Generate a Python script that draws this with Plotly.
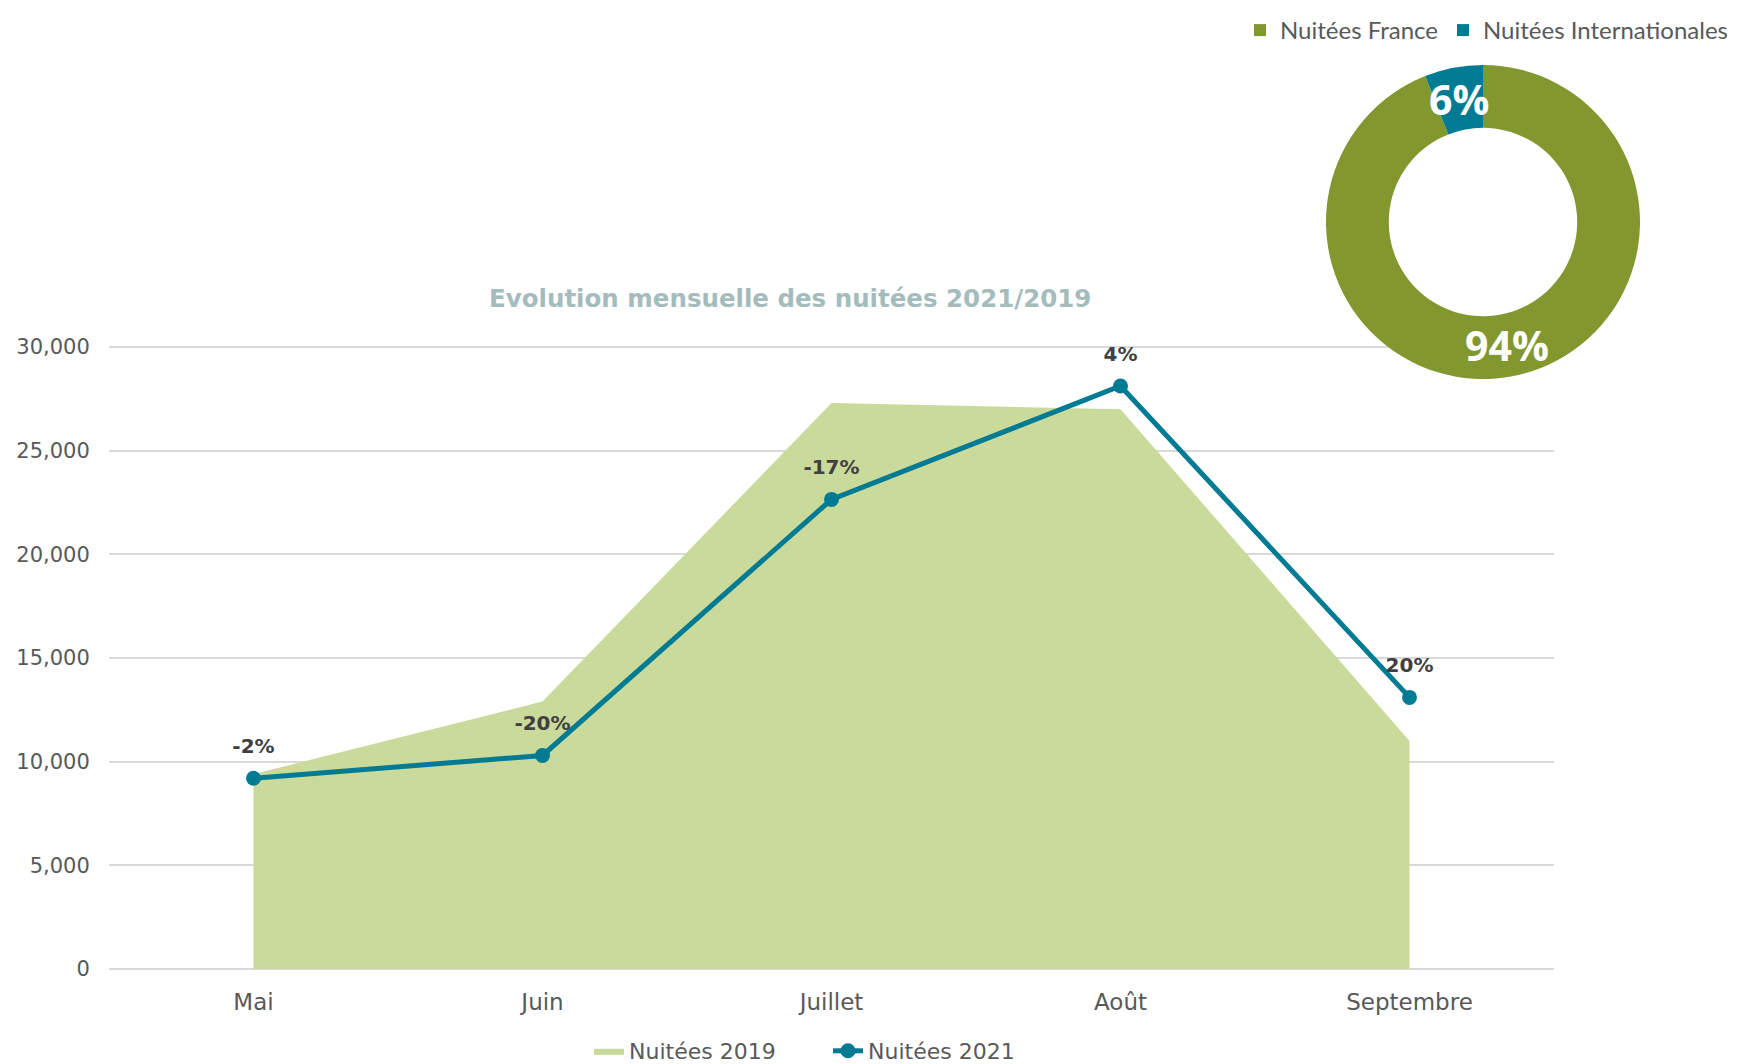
import math
import plotly.graph_objects as go

months = ["Mai", "Juin", "Juillet", "Août", "Septembre"]
nuitees_2019 = [9400, 12900, 27300, 27000, 11000]
nuitees_2021 = [9200, 10300, 22650, 28120, 13100]
evolution_labels = ["-2%", "-20%", "-17%", "4%", "20%"]

pie_labels = ["Nuitées France", "Nuitées Internationales"]
pie_values = [94, 6]
pie_text = ["94%", "6%"]

GREEN_AREA = "#C9DA9B"
TEAL = "#007B93"
OLIVE = "#83972F"
GRAY = "#595959"

W, H = 1744, 1064
OFF = 8  # page body offset of the figure on screen
PL, PR, PT, PB = 109, 1554, 347, 969  # plot area (0..30000) in screen pixels
YMAX = 30000
YTOP = 30300
PT_EXT = PB - (PB - PT) * YTOP / YMAX

# donut geometry (screen pixels)
PIE_CX, PIE_CY, PIE_R, PIE_HOLE = 1483, 222, 157, 0.6


def px_x(v):
    return (v - OFF) / W


def px_y(v):
    return (H - (v - OFF)) / H


fig = go.Figure()

fig.add_trace(go.Scatter(
    x=months, y=nuitees_2019, name="Nuitées 2019", mode="lines",
    fill="tozeroy", fillcolor=GREEN_AREA, line=dict(width=0, color=GREEN_AREA),
    legend="legend", hoverinfo="x+y",
))
fig.add_trace(go.Scatter(
    x=months, y=nuitees_2021, name="Nuitées 2021", mode="lines+markers",
    line=dict(width=5, color=TEAL), marker=dict(size=15, color=TEAL),
    legend="legend", cliponaxis=False,
))
fig.add_trace(go.Scatter(
    x=months, y=nuitees_2021, mode="text+markers", showlegend=False,
    marker=dict(size=31, opacity=0, color=TEAL),
    text=evolution_labels, textposition="top center",
    textfont=dict(family="DejaVu Sans", size=20, color="#404040", weight="bold"),
    cliponaxis=False, hoverinfo="skip",
))

fig.add_trace(go.Pie(
    labels=pie_labels, values=pie_values, textinfo="none",
    hole=PIE_HOLE, sort=False, direction="clockwise", rotation=0,
    marker=dict(colors=[OLIVE, TEAL]),
    domain=dict(x=[px_x(PIE_CX - PIE_R), px_x(PIE_CX + PIE_R)],
                y=[px_y(PIE_CY + PIE_R), px_y(PIE_CY - PIE_R)]),
    legend="legend2",
))

# donut slice labels placed at each slice's mid-angle, in the middle of the ring
annotations = [dict(
    text="<b>Evolution mensuelle des nuitées 2021/2019</b>",
    x=px_x(790), xref="paper", xanchor="center",
    y=px_y(298), yref="paper", yanchor="middle",
    showarrow=False, font=dict(family="DejaVu Sans", size=24.5, color="#A5BCBD"),
)]
total = sum(pie_values)
cum = 0
r_mid = PIE_R * (1 + PIE_HOLE) / 2
for val, txt in zip(pie_values, pie_text):
    theta = 2 * math.pi * (cum + val / 2) / total
    cum += val
    sx = PIE_CX + r_mid * math.sin(theta)
    sy = PIE_CY - r_mid * math.cos(theta)
    annotations.append(dict(
        text=f"<b>{txt}</b>", x=px_x(sx), y=px_y(sy), xref="paper", yref="paper",
        xanchor="center", yanchor="middle", showarrow=False,
        font=dict(family="Open Sans", size=41, color="white"),
    ))

fig.update_layout(
    width=W, height=H,
    margin=dict(l=0, r=0, t=0, b=0),
    paper_bgcolor="white", plot_bgcolor="white",
    font=dict(family="DejaVu Sans", color=GRAY),
    xaxis=dict(
        domain=[px_x(PL), px_x(PR)], range=[-0.5, 4.5], showgrid=False,
        showline=False, zeroline=False, automargin=False,
        ticks="outside", ticklen=12, tickcolor="rgba(0,0,0,0)",
        tickfont=dict(family="DejaVu Sans", size=23, color=GRAY),
    ),
    yaxis=dict(
        domain=[px_y(PB), px_y(PT_EXT)], range=[0, YTOP], dtick=5000,
        tickformat=",", showgrid=True, gridcolor="#D9D9D9", gridwidth=1.5,
        zeroline=True, zerolinecolor="#D9D9D9", zerolinewidth=1.5,
        showline=False, automargin=False,
        ticks="outside", ticklen=14, tickcolor="rgba(0,0,0,0)",
        tickfont=dict(family="DejaVu Sans", size=21, color=GRAY),
    ),
    legend=dict(
        orientation="h",
        x=px_x(828), xanchor="center", y=0, yanchor="bottom",
        font=dict(family="DejaVu Sans", size=22, color=GRAY),
        bgcolor="rgba(0,0,0,0)", entrywidth=194, entrywidthmode="pixels",
    ),
    legend2=dict(
        orientation="h",
        x=px_x(1240), xanchor="left", y=1, yanchor="top",
        font=dict(family="Lato", size=24, color=GRAY),
        bgcolor="rgba(0,0,0,0)",
    ),
    annotations=annotations,
)

fig.write_html("out.html")
